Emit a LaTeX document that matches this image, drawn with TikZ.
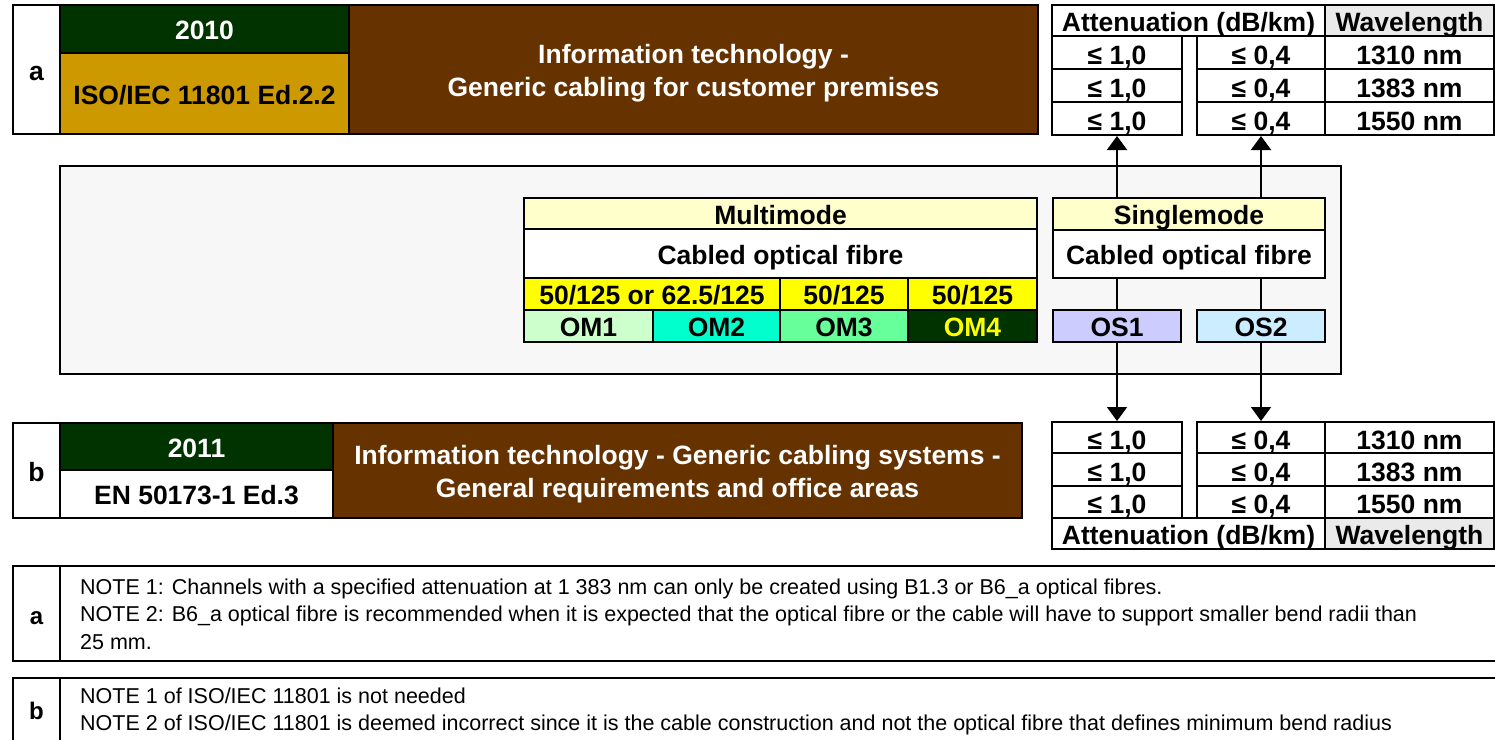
\documentclass[tikz,border=0pt]{standalone}
\usepackage{fontspec}
\setmainfont{Liberation Sans}
\usetikzlibrary{arrows.meta}
\definecolor{dkgreen}{HTML}{003300}
\definecolor{ochre}{HTML}{CC9900}
\definecolor{brownbox}{HTML}{663300}
\definecolor{ltyellow}{HTML}{FFFFCC}
\definecolor{yel}{HTML}{FFFF00}
\definecolor{omone}{HTML}{CCFFCC}
\definecolor{omtwo}{HTML}{00FFCC}
\definecolor{omthree}{HTML}{66FF99}
\definecolor{osone}{HTML}{CCCCFF}
\definecolor{ostwo}{HTML}{CCECFF}
\definecolor{wlgray}{HTML}{EAEAEA}
\definecolor{panel}{HTML}{F7F7F7}
\newcommand\cellbox[7][]{%
  \node[cell,#1,minimum width={#4-#2},minimum height={#5-#3}] (#6) at (#2,#3) {#7};}
\newcommand\tallstrut{\rule{0pt}{26pt}}
\begin{document}
\begin{tikzpicture}[x=1pt,y=-1pt,
  cell/.style={draw=black,line width=2pt,inner sep=0pt,anchor=north west,
    font=\bfseries\fontsize{26.5}{32}\selectfont,text height=21pt,text depth=0pt},
  val/.style={text height=23.5pt},
  title/.style={fill=brownbox,text=white,align=center,text height={},text depth={},
    font=\bfseries\fontsize{26.5}{33}\selectfont},
  note/.style={anchor=base west,inner sep=0pt,font=\fontsize{21.5}{26}\selectfont},
  notelab/.style={font=\bfseries\fontsize{24}{28}\selectfont},
  conn/.style={draw=black,line width=2pt},
  arr/.style={draw=black,line width=2pt,-{Triangle[width=20pt,length=14pt]}}]
\useasboundingbox (0,0) rectangle (1495,739);

% ---- row a ----
\cellbox{12}{4}{59}{133}{labA}{a}
\cellbox[fill=dkgreen,text=white]{59}{4}{348}{52}{yrA}{2010}
\cellbox[fill=ochre]{59}{52}{348}{133}{isoA}{ISO/IEC 11801 Ed.2.2}
\cellbox[title]{348}{4}{1037}{133}{titleA}{\tallstrut Information technology -\\Generic cabling for customer premises}

% ---- table a ----
\cellbox{1051}{4}{1324}{35}{aHead}{Attenuation (dB/km)}
\cellbox[fill=wlgray]{1324}{4}{1493}{35}{aWl}{Wavelength}
\cellbox[val]{1051}{35}{1181}{68}{aOneA}{≤ 1,0}
\cellbox[val]{1196}{35}{1324}{68}{aOneB}{≤ 0,4}
\cellbox[val]{1324}{35}{1493}{68}{aOneC}{1310 nm}
\cellbox[val]{1051}{68}{1181}{101}{aTwoA}{≤ 1,0}
\cellbox[val]{1196}{68}{1324}{101}{aTwoB}{≤ 0,4}
\cellbox[val]{1324}{68}{1493}{101}{aTwoC}{1383 nm}
\cellbox[val]{1051}{101}{1181}{134}{aThrA}{≤ 1,0}
\cellbox[val]{1196}{101}{1324}{134}{aThrB}{≤ 0,4}
\cellbox[val]{1324}{101}{1493}{134}{aThrC}{1550 nm}

% ---- middle panel ----
\node[draw=black,line width=2pt,fill=panel,inner sep=0pt,anchor=north west,
  minimum width=1281,minimum height=208] (panelbox) at (59,165) {};
\cellbox[fill=ltyellow]{523}{197}{1036}{228}{mmHead}{Multimode}
\cellbox[fill=white]{523}{228}{1036}{277}{mmCab}{Cabled optical fibre}
\cellbox[fill=yel]{523}{277}{779}{309}{szA}{50/125 or 62.5/125}
\cellbox[fill=yel]{779}{277}{907}{309}{szB}{50/125}
\cellbox[fill=yel]{907}{277}{1036}{309}{szC}{50/125}
\cellbox[fill=omone]{523}{309}{652}{341}{omA}{OM1}
\cellbox[fill=omtwo]{652}{309}{779}{341}{omB}{OM2}
\cellbox[fill=omthree]{779}{309}{907}{341}{omC}{OM3}
\cellbox[fill=dkgreen,text=yel]{907}{309}{1036}{341}{omD}{OM4}
\cellbox[fill=ltyellow]{1052}{197}{1324}{229}{smHead}{Singlemode}
\cellbox[fill=white]{1052}{229}{1324}{277}{smCab}{Cabled optical fibre}
\cellbox[fill=osone]{1052}{309}{1180}{341}{osA}{OS1}
\cellbox[fill=ostwo]{1196}{309}{1324}{341}{osB}{OS2}

% ---- row b ----
\cellbox{12}{422}{59}{517}{labB}{b}
\cellbox[fill=dkgreen,text=white]{59}{422}{332}{469}{yrB}{2011}
\cellbox[fill=white]{59}{469}{332}{517}{enB}{EN 50173-1 Ed.3}
\cellbox[title]{332}{422}{1021}{517}{titleB}{\tallstrut Information technology - Generic cabling systems -\\General requirements and office areas}

% ---- table b ----
\cellbox[val]{1051}{421}{1181}{452}{bOneA}{≤ 1,0}
\cellbox[val]{1196}{421}{1324}{452}{bOneB}{≤ 0,4}
\cellbox[val]{1324}{421}{1493}{452}{bOneC}{1310 nm}
\cellbox[val]{1051}{452}{1181}{485}{bTwoA}{≤ 1,0}
\cellbox[val]{1196}{452}{1324}{485}{bTwoB}{≤ 0,4}
\cellbox[val]{1324}{452}{1493}{485}{bTwoC}{1383 nm}
\cellbox[val]{1051}{485}{1181}{517}{bThrA}{≤ 1,0}
\cellbox[val]{1196}{485}{1324}{517}{bThrB}{≤ 0,4}
\cellbox[val]{1324}{485}{1493}{517}{bThrC}{1550 nm}
\cellbox{1051}{517}{1324}{548}{bHead}{Attenuation (dB/km)}
\cellbox[fill=wlgray]{1324}{517}{1493}{548}{bWl}{Wavelength}

% ---- connectors ----
\draw[conn] (smCab.south -| osA.north) -- (osA.north);
\draw[conn] (smCab.south -| osB.north) -- (osB.north);
\draw[arr] (smHead.north -| aThrA.south) -- (aThrA.south);
\draw[arr] (smHead.north -| aThrB.south) -- (aThrB.south);
\draw[arr] (osA.south) -- (bOneA.north);
\draw[arr] (osB.south) -- (bOneB.north);

% ---- notes ----
\cellbox[notelab]{12}{565}{59}{660}{nLabA}{a}
\cellbox{59}{565}{1497}{660}{nBodyA}{}
\node[note] (naOne) at (80,594) {NOTE 1: Channels with a specified attenuation at 1 383 nm can only be created using B1.3 or B6\_a optical fibres.};
\node[note] (naTwo) at (80,621.5) {NOTE 2: B6\_a optical fibre is recommended when it is expected that the optical fibre or the cable will have to support smaller bend radii than};
\node[note] (naThr) at (80,649) {25 mm.};
\cellbox[notelab,text height=17pt]{12}{677}{59}{742}{nLabB}{b}
\cellbox{59}{677}{1497}{742}{nBodyB}{}
\node[note] (nbOne) at (80,703) {NOTE 1 of ISO/IEC 11801 is not needed};
\node[note] (nbTwo) at (80,730) {NOTE 2 of ISO/IEC 11801 is deemed incorrect since it is the cable construction and not the optical fibre that defines minimum bend radius};
\end{tikzpicture}
\end{document}
